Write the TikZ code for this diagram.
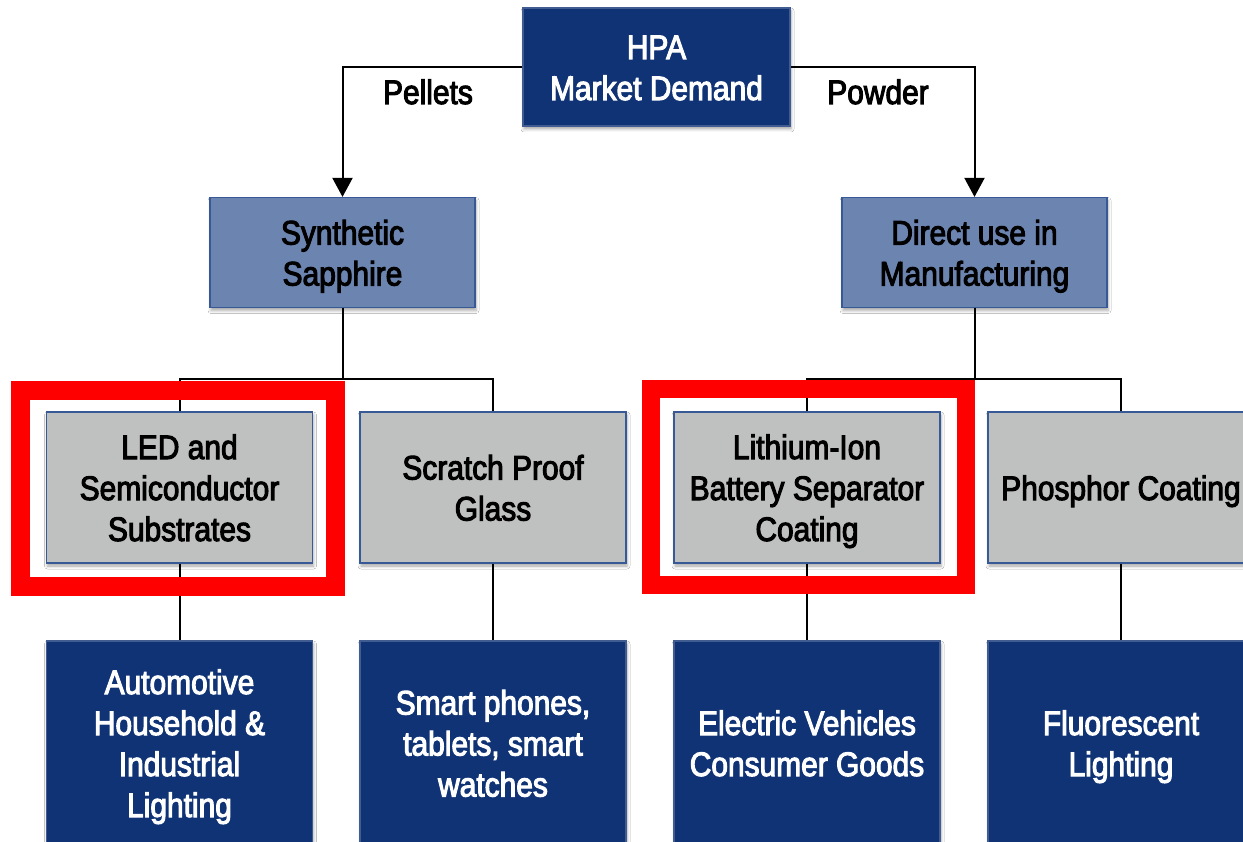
\documentclass[tikz,border=0pt]{standalone}
\usepackage{fontspec}
\setmainfont{Liberation Sans}[FakeStretch=0.88,FakeBold=3]
\usetikzlibrary{arrows.meta,shadows.blur}
\definecolor{navy}{RGB}{16,51,117}
\definecolor{steel}{RGB}{108,132,176}
\definecolor{boxgray}{RGB}{191,192,192}
\definecolor{edgeblue}{RGB}{55,90,150}
\definecolor{frame}{RGB}{255,0,0}
\newcommand\lnstrut{\rule[-8pt]{0pt}{41pt}}
\begin{document}
\begin{tikzpicture}[x=1pt,y=-1pt,
  every node/.style={font=\fontsize{34}{41}\selectfont, align=center, inner sep=0pt},
  boxbase/.style={rectangle, draw=edgeblue, line width=1.2pt,
    blur shadow={shadow xshift=1pt, shadow yshift=-3pt, shadow blur radius=3pt, shadow opacity=35}},
  topbox/.style={boxbase, fill=navy, draw=navy!80!white, text=white, minimum width=267pt, minimum height=118pt},
  midbox/.style={boxbase, fill=steel, text=black, minimum width=265pt, minimum height=110pt},
  graybox/.style={boxbase, fill=boxgray, text=black, minimum width=266pt, minimum height=151pt},
  navybox/.style={boxbase, fill=navy, draw=navy!80!white, text=white, minimum width=266pt, minimum height=204pt},
  conn/.style={draw=black, line width=2pt},
  arr/.style={conn, -{Triangle[width=20pt,length=19pt]}},
  hilite/.style={draw=frame, line width=18.5pt},
  lbl/.style={text=black, anchor=base}
]
\path[use as bounding box] (0,0) rectangle (1243,842);
\clip (0,0) rectangle (1243,842);
\fill[white] (0,0) rectangle (1243,842);

% nodes
\node[topbox] (hpa) at (656.5,67) {\lnstrut HPA\\\lnstrut Market Demand};
\node[midbox] (syn) at (342.5,252.5) {\lnstrut Synthetic\\\lnstrut Sapphire};
\node[midbox] (dir) at (974.5,252.5) {\lnstrut Direct use in\\\lnstrut Manufacturing};

\node[graybox] (led) at (179.5,487.5) {\lnstrut LED and\\\lnstrut Semiconductor\\\lnstrut Substrates};
\node[graybox] (scr) at (493,487.5) {\lnstrut Scratch Proof\\\lnstrut Glass};
\node[graybox] (lit) at (807,487.5) {\lnstrut Lithium-Ion\\\lnstrut Battery Separator\\\lnstrut Coating};
\node[graybox] (pho) at (1121,487.5) {\lnstrut Phosphor Coating};

\node[navybox] (b1) at (179.5,743) {\lnstrut Automotive\\\lnstrut Household \&\\\lnstrut Industrial\\\lnstrut Lighting};
\node[navybox] (b2) at (493,743) {\lnstrut Smart phones,\\\lnstrut tablets, smart\\\lnstrut watches};
\node[navybox] (b3) at (807,743) {\lnstrut Electric Vehicles\\\lnstrut Consumer Goods};
\node[navybox] (b4) at (1121,743) {\lnstrut Fluorescent\\\lnstrut Lighting};

% labels
\node[lbl] (pel) at (428,104) {Pellets};
\node[lbl] (pow) at (878,104) {Powder};

% connectors
\draw[arr] (hpa.west) -| (syn.north);
\draw[arr] (hpa.east) -| (dir.north);

\coordinate (jl) at (342.5,379);
\coordinate (jr) at (974.5,379);
\draw[conn] (syn.south) -- (jl);
\draw[conn] (led.north) -- (led.north |- jl) -- (scr.north |- jl) -- (scr.north);
\draw[conn] (dir.south) -- (jr);
\draw[conn] (lit.north) -- (lit.north |- jr) -- (pho.north |- jr) -- (pho.north);

\draw[conn] (led.south) -- (b1.north);
\draw[conn] (scr.south) -- (b2.north);
\draw[conn] (lit.south) -- (b3.north);
\draw[conn] (pho.south) -- (b4.north);

% highlight frames
\draw[hilite] (20.5,390.5) rectangle (335.5,586.5);
\draw[hilite] (651,389) rectangle (966,585);
\end{tikzpicture}
\end{document}
